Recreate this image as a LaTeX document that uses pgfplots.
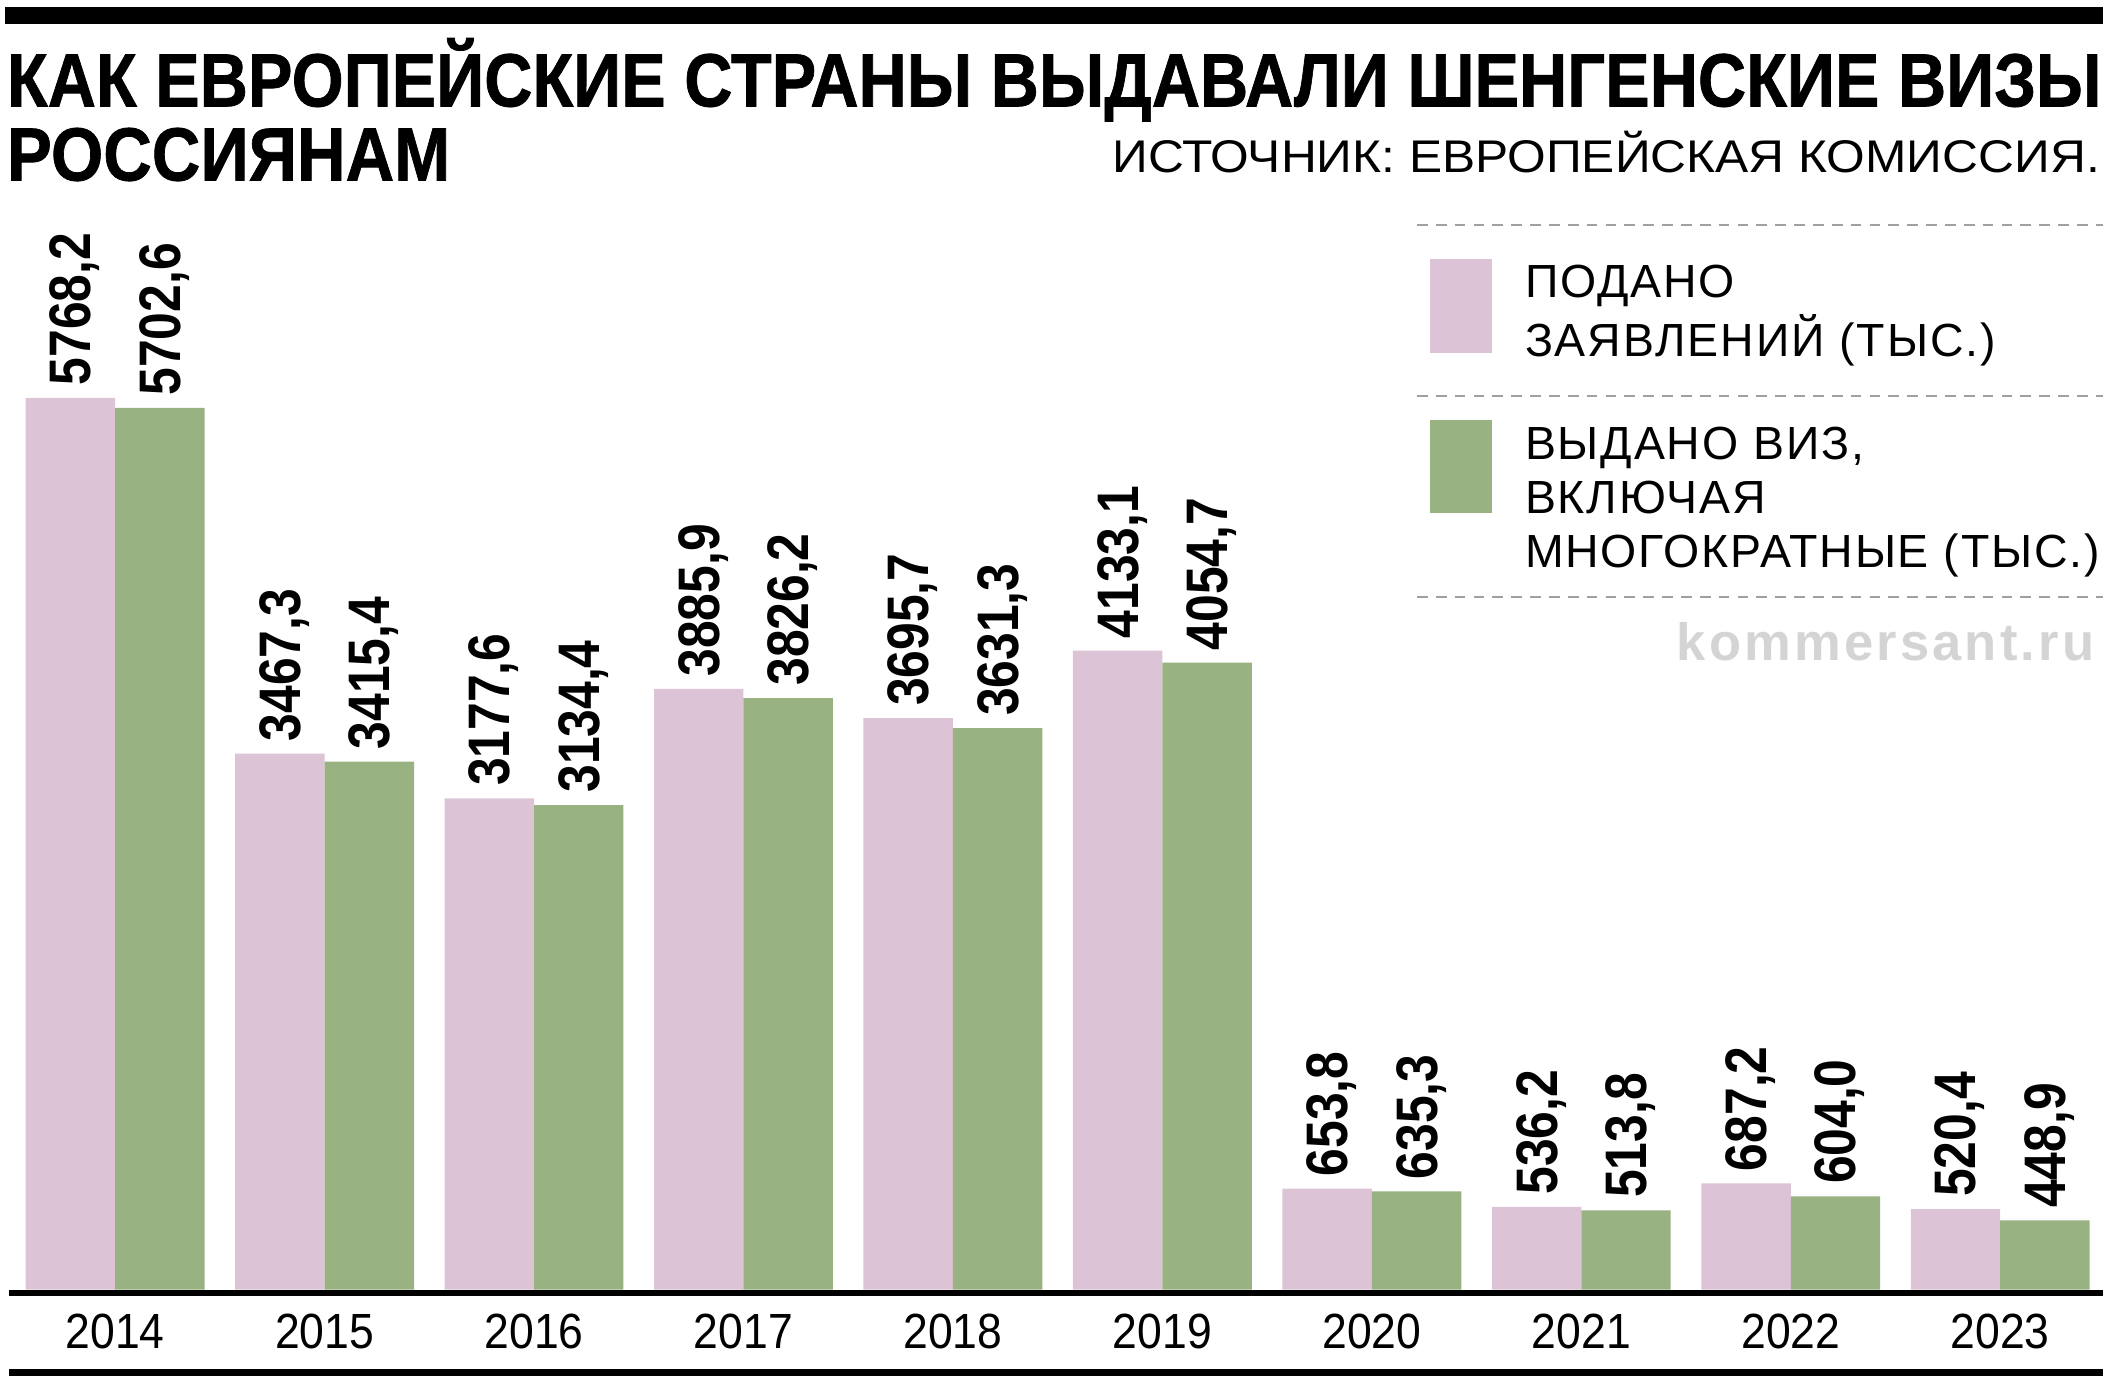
\documentclass[border=0pt]{standalone}
\usepackage{fontspec}
\setmainfont{Liberation Sans}
\usepackage{pgfplots}
\pgfplotsset{compat=1.18}
\newfontfamily\titlef{Liberation Sans Bold}[FakeBold=1]
\newfontfamily\lblf{Liberation Sans Bold}[FakeStretch=0.85]
\newfontfamily\yrf{Liberation Sans}[FakeStretch=0.9]
\newfontfamily\legf{Liberation Sans}[LetterSpace=4]
\newfontfamily\kf{Liberation Sans Bold}[LetterSpace=6]
\definecolor{pinkb}{RGB}{220,195,214}
\definecolor{greenb}{RGB}{152,178,130}
\definecolor{dashg}{RGB}{160,160,160}
\definecolor{kgray}{RGB}{212,212,212}

\begin{document}
\begin{tikzpicture}
\path[use as bounding box] (0pt,0pt) rectangle (1568pt,-1032pt);
% top bar
\fill[black] (4pt,-5pt) rectangle (1561pt,-18pt);
% title
\node[anchor=base west, inner sep=0pt] at (5pt,-79pt) {\resizebox{1555pt}{\height}{\titlef\fontsize{56pt}{56pt}\selectfont КАК ЕВРОПЕЙСКИЕ СТРАНЫ ВЫДАВАЛИ ШЕНГЕНСКИЕ ВИЗЫ}};
\node[anchor=base west, inner sep=0pt] at (5pt,-134pt) {\resizebox{329pt}{\height}{\titlef\fontsize{56pt}{56pt}\selectfont РОССИЯНАМ}};
% source
\node[anchor=base east, inner sep=0pt] at (1559pt,-128pt) {\resizebox{733pt}{\height}{\fontsize{34pt}{34pt}\selectfont ИСТОЧНИК: ЕВРОПЕЙСКАЯ КОМИССИЯ.}};
% legend
\draw[dashg, line width=1.3pt, dash pattern=on 8pt off 6pt] (1052pt,-167pt) -- (1561pt,-167pt);
\draw[dashg, line width=1.3pt, dash pattern=on 8pt off 6pt] (1052pt,-294pt) -- (1561pt,-294pt);
\draw[dashg, line width=1.3pt, dash pattern=on 8pt off 6pt] (1052pt,-443pt) -- (1561pt,-443pt);
\fill[pinkb] (1062pt,-192pt) rectangle (1108pt,-262pt);
\fill[greenb] (1062pt,-312pt) rectangle (1108pt,-381pt);
\node[anchor=base west, inner sep=0pt] at (1132pt,-221pt) {\legf\fontsize{34.5pt}{34.5pt}\selectfont ПОДАНО};
\node[anchor=base west, inner sep=0pt] at (1132pt,-265pt) {\legf\fontsize{34.5pt}{34.5pt}\selectfont ЗАЯВЛЕНИЙ (ТЫС.)};
\node[anchor=base west, inner sep=0pt] at (1132pt,-341pt) {\legf\fontsize{34.5pt}{34.5pt}\selectfont ВЫДАНО ВИЗ,};
\node[anchor=base west, inner sep=0pt] at (1132pt,-381pt) {\legf\fontsize{34.5pt}{34.5pt}\selectfont ВКЛЮЧАЯ};
\node[anchor=base west, inner sep=0pt] at (1132pt,-421pt) {\legf\fontsize{34.5pt}{34.5pt}\selectfont МНОГОКРАТНЫЕ (ТЫС.)};
\node[anchor=base east, inner sep=0pt, text=kgray] at (1555pt,-490pt) {\kf\fontsize{39pt}{39pt}\selectfont kommersant.ru};
% axis lines
\fill[black] (7pt,-957.5pt) rectangle (1561pt,-962.5pt);
\fill[black] (7pt,-1016pt) rectangle (1561pt,-1021.5pt);

\begin{axis}[
  at={(7.4pt,-957.5pt)}, anchor=south west,
  scale only axis, width=1553.6pt, height=700pt,
  xmin=-0.502, xmax=9.489, ymin=0, ymax=6097.6,
  ybar, bar width=0.427,
  axis line style={draw=none},
  ytick=\empty,
  xtick={0,1,2,3,4,5,6,7,8,9},
  xticklabels={2014,2015,2016,2017,2018,2019,2020,2021,2022,2023},
  major tick length=0pt,
  xticklabel style={anchor=base, yshift=-43.5pt, font=\yrf\fontsize{36.7pt}{36.7pt}\selectfont},
  clip=false,
  nodes near coords={\pgfmathprintnumber[fixed, fixed zerofill, precision=1, use comma, 1000 sep={}, assume math mode=true]{\pgfplotspointmeta}},
  every node near coord/.append style={rotate=90, anchor=west, inner xsep=9pt, inner ysep=0pt, text depth=0pt, text=black, font=\lblf\fontsize{43.5pt}{43.5pt}\selectfont},
]
\addplot[fill=pinkb, draw=none, bar shift=-0.2135] coordinates {
(0,5768.2) (1,3467.3) (2,3177.6) (3,3885.9) (4,3695.7) (5,4133.1) (6,653.8) (7,536.2) (8,687.2) (9,520.4)};
\addplot[fill=greenb, draw=none, bar shift=0.2135] coordinates {
(0,5702.6) (1,3415.4) (2,3134.4) (3,3826.2) (4,3631.3) (5,4054.7) (6,635.3) (7,513.8) (8,604.0) (9,448.9)};
\end{axis}
\end{tikzpicture}
\end{document}
